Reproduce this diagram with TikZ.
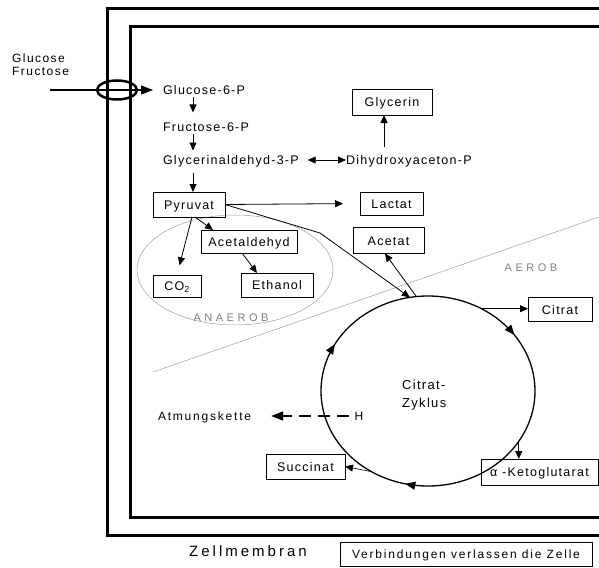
\documentclass[tikz,border=0pt]{standalone}
\usepackage{fontspec}
\setmainfont{Liberation Sans}[LetterSpace=10]
\usetikzlibrary{arrows.meta,shapes.geometric,decorations.markings,calc}
\begin{document}
\begin{tikzpicture}[x=1pt,y=-1pt,
  lbl/.style={inner sep=0pt, outer sep=0pt, font=\fontsize{12.5}{14}\selectfont, text height=9pt, text depth=0pt},
  box/.style={lbl, draw, line width=0.7pt},
  arr/.style={-{Triangle[length=8pt,width=7pt]}, line width=0.8pt},
  bigarr/.style={-{Triangle[length=12pt,width=9pt]}, line width=1.3pt},
  memb/.style={line width=3pt},
  zone/.style={gray!75, line width=0.5pt},
  zonetxt/.style={inner sep=0pt, text=gray, font=\fontsize{11}{13}\selectfont\addfontfeature{LetterSpace=32}, text height=8pt, text depth=0pt}
]
\useasboundingbox (0,0) rectangle (599,567);

% membranes
\draw[memb] (599,9) -| (107,535) -- (599,535);
\draw[memb] (599,27) -| (130,517) -- (599,517);

% zones
\draw[zone] (235,270) ellipse [x radius=98, y radius=55];
\draw[zone] (153,372) -- (599,217);
\node[zonetxt] (anaerob) at (231,317) {ANAEROB};
\node[zonetxt] (aerob) at (531,267.5) {AEROB};

% glucose entry
\node[inner sep=0pt, anchor=north west, align=left, font=\fontsize{12}{12.5}\selectfont\addfontfeature{LetterSpace=12}] (glcf) at (12,54) {Glucose\\Fructose};
\coordinate (glcin) at (50,90);
\draw[line width=2.5pt] (117,90) ellipse [x radius=20, y radius=9.5];

% glycolysis texts
\node[lbl, anchor=west] (g6p) at (163,90) {Glucose-6-P};
\node[lbl, anchor=west] (f6p) at (163,127) {Fructose-6-P};
\node[lbl, anchor=west] (gap) at (163,160) {Glycerinaldehyd-3-P};
\node[lbl, anchor=west] (dhap) at (346,160) {Dihydroxyaceton-P};

% boxes
\node[box, minimum width=80, minimum height=26] (glycerin) at (392,102) {Glycerin};
\node[box, minimum width=72, minimum height=25] (pyr) at (189,204.5) {Pyruvat};
\node[box, minimum width=63, minimum height=23] (lactat) at (391.5,203.5) {Lactat};
\node[box, minimum width=71, minimum height=26] (acetat) at (388.5,240.5) {Acetat};
\node[box, minimum width=96, minimum height=23] (acetald) at (249,241.5) {Acetaldehyd};
\node[box, minimum width=72, minimum height=24] (ethanol) at (277,285) {Ethanol};
\node[box, minimum width=48, minimum height=22] (co2) at (177,286) {CO\textsubscript{2}};
\node[box, minimum width=64, minimum height=24] (citrat) at (560,309.5) {Citrat};
\node[box, minimum width=117, minimum height=26] (akg) at (539.5,472) {α -Ketoglutarat};
\node[box, minimum width=79, minimum height=25] (succ) at (305.5,466.5) {Succinat};
\node[box, minimum width=252, minimum height=24, font=\fontsize{12}{13}\selectfont\addfontfeature{LetterSpace=15}] (verb) at (466,554) {Verbindungen verlassen die Zelle};

\node[inner sep=0pt, font=\fontsize{15}{17}\selectfont\addfontfeature{LetterSpace=20}, text height=10.8pt, text depth=0pt] (zell) at (248,551.5) {Zellmembran};

% cycle
\node[ellipse, minimum width=214, minimum height=190, inner sep=0pt, outer sep=0pt] (cyc) at (428,391) {};
\draw[line width=1.3pt, postaction={decorate}, decoration={markings,
  mark=at position 0.286 with {\arrow{Triangle[length=10pt,width=8pt]}},
  mark=at position 0.578 with {\arrow{Triangle[length=10pt,width=8pt]}},
  mark=at position 0.904 with {\arrow{Triangle[length=10pt,width=8pt]}}}] (428,391) ellipse [x radius=107, y radius=95];
\node[inner sep=0pt, anchor=north west, align=left, font=\fontsize{13}{18}\selectfont] (cyctxt) at (402,380) {Citrat-\\Zyklus};

\node[lbl, anchor=west, font=\fontsize{12}{13}\selectfont\addfontfeature{LetterSpace=15}] (atm) at (158,416) {Atmungskette};
\node[lbl, font=\fontsize{12}{13}\selectfont] (h) at (359,416) {H};

% connectors
\draw[bigarr, shorten >=10pt] (glcin) -- (g6p.west);
\draw[arr, shorten <=3pt, shorten >=10pt] ($(g6p.south west)+(30,0)$) -- ($(f6p.north west)+(30,0)$);
\draw[arr, shorten <=2pt, shorten >=5pt] ($(f6p.south west)+(30,0)$) -- ($(gap.north west)+(30,0)$);
\draw[arr, shorten <=8pt] ($(gap.south west)+(30,0)$) -- ($(pyr.north west)+(40,0)$);
\draw[{Triangle[length=8pt,width=7pt]}-{Triangle[length=8pt,width=7pt]}, line width=0.8pt, shorten <=9pt] (gap.east) -- (dhap.west);
\draw[arr, shorten <=9pt] ($(dhap.north west)+(38,0)$) -- ($(glycerin.south west)+(32,0)$);
\draw[arr, shorten >=17pt] (pyr.east) -- (lactat.west);
\draw[arr, shorten >=10pt] ($(pyr.south)+(3,0)$) -- (co2.north);
\draw[arr] ($(pyr.south)+(6,0)$) -- ($(acetald.north west)+(12,0)$);
\draw[arr] ($(acetald.south)+(-7,0)$) -- ($(ethanol.north west)+(16,0)$);
\draw[arr] (pyr.east) -- (320,233) -- (cyc.101);
\draw[arr] (cyc.97) -- ($(acetat.south west)!0.45!(acetat.south east)$);
\draw[arr] (cyc.57) -- (cyc.57 -| citrat.west);
\draw[arr] (cyc.-29) -- (cyc.-29 |- akg.north);
\draw[arr, line width=0.6pt] (cyc.-125) -- (succ.east);
\draw[-{Triangle[length=12pt,width=9pt]}, line width=1.8pt, dash pattern=on 12pt off 7pt, shorten <=6pt, shorten >=20pt] (h.west) -- (atm.east);
\end{tikzpicture}
\end{document}
